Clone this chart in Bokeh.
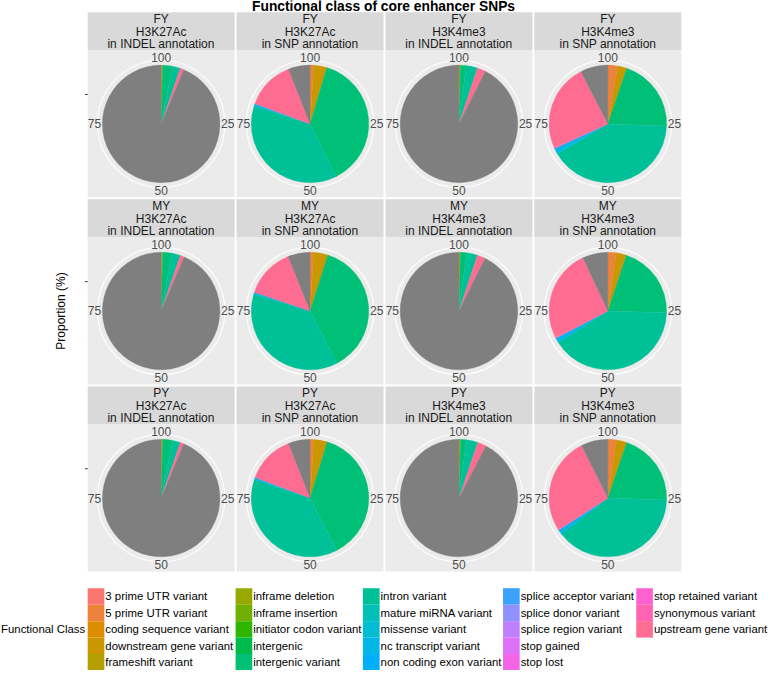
import numpy as np
import pandas as pd
from bokeh.plotting import figure
from bokeh.models import ColumnDataSource, Range1d
from bokeh.core.properties import value
from bokeh.embed import file_html
from bokeh.resources import INLINE

# ---------------- data ----------------
functional_classes = [
    "3 prime UTR variant", "5 prime UTR variant", "coding sequence variant",
    "downstream gene variant", "frameshift variant", "inframe deletion",
    "inframe insertion", "initiator codon variant", "intergenic",
    "intergenic variant", "intron variant", "mature miRNA variant",
    "missense variant", "nc transcript variant", "non coding exon variant",
    "splice acceptor variant", "splice donor variant", "splice region variant",
    "stop gained", "stop lost", "stop retained variant", "synonymous variant",
    "upstream gene variant",
]

pie_classes = ["5 prime UTR variant", "downstream gene variant", "frameshift variant",
               "intergenic variant", "intron variant", "nc transcript variant",
               "synonymous variant", "upstream gene variant", "NA"]

FY_H3K27Ac_INDEL = [0, 0, 0.4, 2.7, 2.2, 0, 0, 1.0, 93.7]
FY_H3K27Ac_SNP = [1.0, 3.6, 0, 38.0, 37.4, 0.6, 0, 13.4, 6.0]
FY_H3K4me3_INDEL = [0, 0, 0.4, 1.6, 3.1, 0, 0, 2.3, 92.6]
FY_H3K4me3_SNP = [2.7, 2.5, 0, 20.4, 41.0, 1.5, 0.3, 24.0, 7.6]
MY_H3K27Ac_INDEL = [0, 0, 0.4, 2.6, 2.3, 0, 0, 1.1, 93.6]
MY_H3K27Ac_SNP = [1.0, 3.9, 0, 37.5, 37.3, 0.5, 0, 13.7, 6.1]
MY_H3K4me3_INDEL = [0, 0, 0.4, 1.7, 3.0, 0, 0, 2.2, 92.7]
MY_H3K4me3_SNP = [2.3, 2.8, 0, 20.4, 40.5, 1.3, 0.3, 25.4, 7.0]
PY_H3K27Ac_INDEL = [0, 0, 0.4, 2.8, 2.1, 0, 0, 1.0, 93.7]
PY_H3K27Ac_SNP = [1.0, 3.7, 0, 37.8, 37.6, 0.6, 0, 13.3, 6.0]
PY_H3K4me3_INDEL = [0, 0, 0.4, 1.6, 3.2, 0, 0, 2.4, 92.4]
PY_H3K4me3_SNP = [2.4, 2.8, 0, 20.3, 39.0, 1.3, 0.3, 26.5, 7.4]

groups = ["FY", "MY", "PY"]
marks = ["H3K27Ac", "H3K27Ac", "H3K4me3", "H3K4me3"]
annotations = ["in INDEL annotation", "in SNP annotation", "in INDEL annotation", "in SNP annotation"]
panel_values = [
    [FY_H3K27Ac_INDEL, FY_H3K27Ac_SNP, FY_H3K4me3_INDEL, FY_H3K4me3_SNP],
    [MY_H3K27Ac_INDEL, MY_H3K27Ac_SNP, MY_H3K4me3_INDEL, MY_H3K4me3_SNP],
    [PY_H3K27Ac_INDEL, PY_H3K27Ac_SNP, PY_H3K4me3_INDEL, PY_H3K4me3_SNP],
]
theta_breaks = [100, 25, 50, 75]
theta_labels = ["100", "25", "50", "75"]

title_text = "Functional class of core enhancer SNPs"
y_title = "Proportion (%)"
legend_title = "Functional Class"

# ---------------- colours (ggplot hue palette) ----------------
def hcl_hex(h, c=100.0, l=65.0):
    hr = np.radians(h)
    u, v = c * np.cos(hr), c * np.sin(hr)
    Xn, Yn, Zn = 95.047, 100.0, 108.883
    Y = Yn * ((l + 16) / 116) ** 3 if l > 8 else Yn * l / 903.3
    t = Xn + 15 * Yn + 3 * Zn
    un, vn = 4 * Xn / t, 9 * Yn / t
    up, vp = u / (13 * l) + un, v / (13 * l) + vn
    X = 9.0 * Y * up / (4 * vp)
    Z = -X / 3 - 5 * Y + 3 * Y / vp
    X, Y, Z = X / 100, Y / 100, Z / 100
    rgb = [3.240479 * X - 1.537150 * Y - 0.498535 * Z,
           -0.969256 * X + 1.875992 * Y + 0.041556 * Z,
           0.055648 * X - 0.204043 * Y + 1.057311 * Z]
    out = []
    for ch in rgb:
        ch = 12.92 * ch if ch <= 0.0031308 else 1.055 * ch ** (1 / 2.4) - 0.055
        ch = min(max(ch, 0.0), 1.0)
        out.append(int(round(ch * 255)))
    return "#%02X%02X%02X" % tuple(out)

n = len(functional_classes)
hues = [15 + 360 * i / n for i in range(n)]
palette = {cls: hcl_hex(h) for cls, h in zip(functional_classes, hues)}
palette["NA"] = "#7F7F7F"

# ---------------- layout (reference pixel space) ----------------
W, H = 768, 670
XMAX = 784.0
YSPAN = H * XMAX / W
def Y(v):
    return 685.0 - v

FONT = value("Liberation Sans")
col_left = [89 + 152 * c for c in range(4)]
panel_w = 150
row_top = [13 + 191 * r for r in range(3)]
strip_h = 39
pie_r = 60
ring_r = 65
lab_r = 68

p = figure(width=W, height=H, x_range=Range1d(0, XMAX), y_range=Range1d(0, YSPAN),
           output_backend="svg", toolbar_location=None, tools="")
p.min_border_left = p.min_border_right = p.min_border_top = p.min_border_bottom = 0
p.axis.visible = False
p.grid.visible = False
p.outline_line_color = None
p.background_fill_color = "white"
p.border_fill_color = "white"

strip_q = dict(left=[], right=[], top=[], bottom=[])
panel_q = dict(left=[], right=[], top=[], bottom=[])
wedges = dict(x=[], y=[], start=[], end=[], color=[])
ring = dict(x=[], y=[])
labels = dict(x=[], y=[], text=[])
strip_txt = dict(x=[], y=[], text=[])
ticks = dict(x0=[], y0=[], x1=[], y1=[])

for r in range(3):
    st = row_top[r]
    pt = st + strip_h
    for c in range(4):
        x0 = col_left[c]
        strip_q["left"].append(x0); strip_q["right"].append(x0 + panel_w)
        strip_q["top"].append(Y(st)); strip_q["bottom"].append(Y(pt))
        panel_q["left"].append(x0); panel_q["right"].append(x0 + panel_w)
        panel_q["top"].append(Y(pt)); panel_q["bottom"].append(Y(pt + panel_w))
        cx = x0 + panel_w / 2
        cy = pt + panel_w / 2
        for k, line in enumerate([groups[r], marks[c], annotations[c]]):
            strip_txt["x"].append(cx); strip_txt["y"].append(Y(st + 7 + 12.8 * k)); strip_txt["text"].append(line)
        ring["x"].append(cx); ring["y"].append(Y(cy))
        vals = np.array(panel_values[r][c], dtype=float)
        frac = vals / vals.sum()
        cum = np.concatenate([[0], np.cumsum(frac)])
        for i, cls in enumerate(pie_classes):
            if vals[i] <= 0:
                continue
            wedges["x"].append(cx); wedges["y"].append(Y(cy))
            wedges["start"].append(np.pi / 2 - 2 * np.pi * cum[i + 1])
            wedges["end"].append(np.pi / 2 - 2 * np.pi * cum[i])
            wedges["color"].append(palette[cls])
        for b, t in zip(theta_breaks, theta_labels):
            a = np.pi / 2 - 2 * np.pi * (b % 100) / 100
            labels["x"].append(cx + lab_r * np.cos(a))
            labels["y"].append(Y(cy) + lab_r * np.sin(a))
            labels["text"].append(t)
    # radial axis tick (left of first column)
    cy0 = pt + panel_w / 2
    ticks["x0"].append(col_left[0] - 2.7); ticks["x1"].append(col_left[0])
    ticks["y0"].append(Y(cy0 - 30)); ticks["y1"].append(Y(cy0 - 30))

p.quad(source=ColumnDataSource(strip_q), left="left", right="right", top="top", bottom="bottom",
       fill_color="#D9D9D9", line_color=None)
p.quad(source=ColumnDataSource(panel_q), left="left", right="right", top="top", bottom="bottom",
       fill_color="#EBEBEB", line_color=None)
p.circle(source=ColumnDataSource(ring), x="x", y="y", radius=ring_r,
         fill_color=None, line_color="white", line_width=1.2, line_alpha=0.9)
p.wedge(source=ColumnDataSource(wedges), x="x", y="y", radius=pie_r,
        start_angle="start", end_angle="end", direction="anticlock",
        fill_color="color", line_color="color", line_width=0.3)
p.segment(source=ColumnDataSource(ticks), x0="x0", y0="y0", x1="x1", y1="y1",
          line_color="#333333", line_width=1)
p.text(source=ColumnDataSource(labels), x="x", y="y", text="text",
       text_align="center", text_baseline="middle", text_font=FONT,
       text_font_size="12px", text_color="#4D4D4D")
p.text(source=ColumnDataSource(strip_txt), x="x", y="y", text="text",
       text_align="center", text_baseline="middle", text_font=FONT,
       text_font_size="12px", text_color="#1A1A1A")

# title and axis title
p.text(x=[391], y=[Y(7)], text=[title_text], text_align="center", text_baseline="middle",
       text_font=FONT, text_font_size="13.8px", text_font_style="bold", text_color="black")
p.text(x=[62], y=[Y(318)], text=[y_title], angle=np.pi / 2, text_align="center",
       text_baseline="middle", text_font=FONT, text_font_size="12px", text_color="black")

# legend
leg_col_x = [89, 240, 370, 513, 649]
leg_top = 601
key_h = 16.8
key_w = 17
lk = dict(left=[], right=[], top=[], bottom=[], color=[])
lt = dict(x=[], y=[], text=[])
for i, cls in enumerate(functional_classes):
    col, row = divmod(i, 5)
    x0 = leg_col_x[col]
    yt = leg_top + row * key_h
    lk["left"].append(x0); lk["right"].append(x0 + key_w)
    lk["top"].append(Y(yt)); lk["bottom"].append(Y(yt + key_h))
    lk["color"].append(palette[cls])
    lt["x"].append(x0 + key_w + 1); lt["y"].append(Y(yt + key_h / 2)); lt["text"].append(cls)
p.quad(source=ColumnDataSource(lk), left="left", right="right", top="top", bottom="bottom",
       fill_color="color", line_color=None)
p.text(source=ColumnDataSource(lt), x="x", y="y", text="text", text_align="left",
       text_baseline="middle", text_font=FONT, text_font_size="11.4px", text_color="black")
p.text(x=[86.5], y=[Y(643)], text=[legend_title], text_align="right", text_baseline="middle",
       text_font=FONT, text_font_size="11.4px", text_color="black")

open("out.html", "w").write(file_html(p, INLINE))
